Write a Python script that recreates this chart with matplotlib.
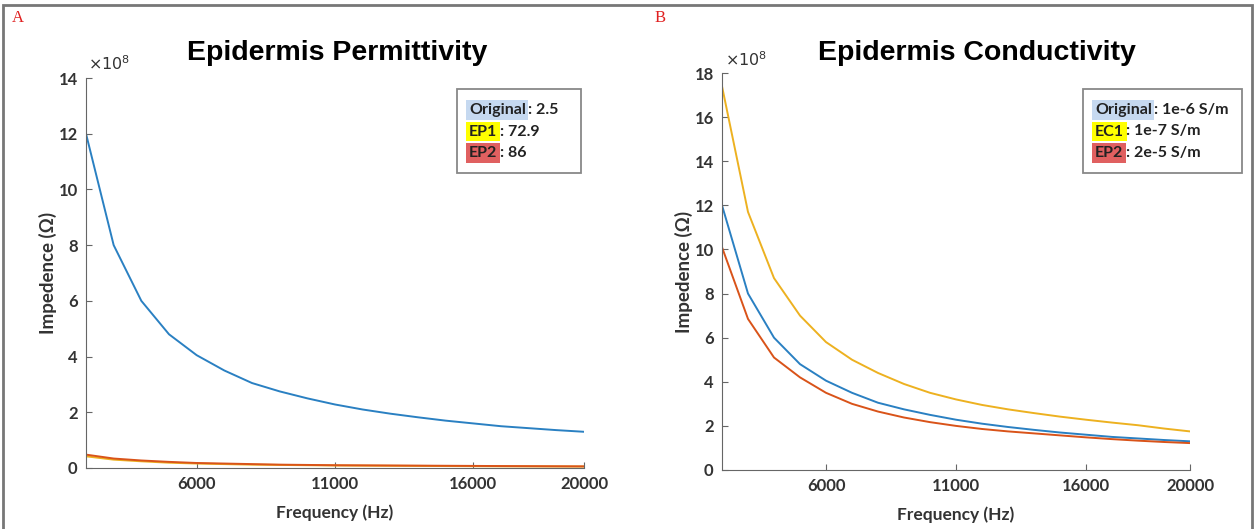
import matplotlib
matplotlib.use("Agg")
import matplotlib.pyplot as plt
from matplotlib.patches import Rectangle
from matplotlib.text import Annotation

# frequency sweep (Hz) and impedance values in units of 1e8 ohm
freq = [2000, 3000, 4000, 5000, 6000, 7000, 8000, 9000, 10000, 11000,
        12000, 13000, 14000, 15000, 16000, 17000, 18000, 19000, 20000]

original = [12.0, 8.0, 6.0, 4.8, 4.05, 3.5, 3.05, 2.75, 2.5, 2.28,
            2.1, 1.95, 1.82, 1.7, 1.6, 1.5, 1.43, 1.36, 1.3]
ep1 = [0.42, 0.30, 0.24, 0.19, 0.16, 0.14, 0.12, 0.11, 0.10, 0.09,
       0.085, 0.08, 0.075, 0.07, 0.065, 0.06, 0.058, 0.055, 0.052]
ep2 = [0.48, 0.34, 0.27, 0.22, 0.18, 0.16, 0.14, 0.12, 0.11, 0.10,
       0.095, 0.09, 0.085, 0.08, 0.075, 0.07, 0.066, 0.062, 0.058]

ec1 = [17.4, 11.7, 8.7, 7.0, 5.8, 5.0, 4.4, 3.9, 3.5, 3.2,
       2.95, 2.75, 2.58, 2.42, 2.28, 2.15, 2.03, 1.88, 1.75]
ep2_cond = [10.1, 6.85, 5.1, 4.2, 3.5, 3.0, 2.65, 2.38, 2.17, 2.0,
            1.86, 1.75, 1.66, 1.57, 1.48, 1.40, 1.33, 1.27, 1.22]

xticks = [6000, 11000, 16000, 20000]

blue = "#2a80c2"
yellow = "#EDB120"
red = "#D95319"

plt.rcParams['font.family'] = ['Lato', 'DejaVu Sans']

W, H = 1255, 529
fig = plt.figure(figsize=(W / 100, H / 100), dpi=100)

# outer frame of the figure
fig.patches.append(Rectangle((0.0024, -0.05), 0.9952, 1.0405, transform=fig.transFigure,
                             fill=False, edgecolor="#777777", lw=2))

fig.text(12 / W, 1 - 18 / H, "A", color="#e02020", fontsize=12,
         family="Liberation Serif", va="center")
fig.text(655 / W, 1 - 18 / H, "B", color="#e02020", fontsize=12,
         family="Liberation Serif", va="center")


def style(ax, ymax):
    ax.set_xlim(2000, 20000)
    ax.set_ylim(0, ymax)
    ax.set_xticks(xticks)
    ax.set_yticks(range(0, ymax + 1, 2))
    for s in ["top", "right"]:
        ax.spines[s].set_visible(False)
    for s in ["left", "bottom"]:
        ax.spines[s].set_color("#666666")
    ax.tick_params(direction="in", length=4, colors="#666666", labelsize=12,
                   labelcolor="#333333", pad=6)
    for lab in ax.get_xticklabels() + ax.get_yticklabels():
        lab.set_fontweight("bold")
    ax.set_xlabel("Frequency (Hz)", fontsize=12.5, fontweight="bold", color="#333333", labelpad=9)
    ax.set_ylabel("Impedence (Ω)", fontsize=13.5, fontweight="bold", color="#333333", labelpad=1)


axA = fig.add_axes([86 / W, (H - 468) / H, 498 / W, 390 / H])
axA.plot(freq, original, color=blue, lw=1.4)
axA.plot(freq, ep1, color=yellow, lw=1.4)
axA.plot(freq, ep2, color=red, lw=1.4)
style(axA, 14)

axB = fig.add_axes([722 / W, (H - 470) / H, 468 / W, 397 / H])
axB.plot(freq, original, color=blue, lw=1.4)
axB.plot(freq, ec1, color=yellow, lw=1.4)
axB.plot(freq, ep2_cond, color=red, lw=1.4)
style(axB, 18)

fig.text(88 / W, 1 - 64 / H, r"$\times10^{8}$", fontsize=11.5, color="#333333", va="center")
fig.text(725 / W, 1 - 60 / H, r"$\times10^{8}$", fontsize=11.5, color="#333333", va="center")

fig.text(337 / W, 1 - 53 / H, "Epidermis Permittivity", fontsize=20.5, fontweight="bold",
         family="Liberation Sans", ha="center", va="center")
fig.text(977 / W, 1 - 53 / H, "Epidermis Conductivity", fontsize=20.5, fontweight="bold",
         family="Liberation Sans", ha="center", va="center")


def legend_box(x0, x1, entries):
    fig.patches.append(Rectangle((x0 / W, 1 - 173 / H), (x1 - x0) / W, 84 / H,
                                 transform=fig.transFigure, fill=False,
                                 edgecolor="#888888", lw=1.3))
    for (name, hl, value), yc in zip(entries, [110, 131.5, 153]):
        t = fig.text((x0 + 12) / W, 1 - yc / H, name, fontsize=11.5, fontweight="bold",
                     color="#222222", va="center", zorder=3,
                     bbox=dict(facecolor=hl, edgecolor="none", pad=1.8))
        # rest of the line, drawn on top of the highlight
        ann = Annotation(value, xy=(1, 0.5), xycoords=t, xytext=(1.8, 0),
                         textcoords="offset points", va="center", ha="left",
                         fontsize=11.5, fontweight="bold", color="#222222",
                         annotation_clip=False, zorder=4)
        fig.add_artist(ann)


legend_box(457, 581, [("Original", "#c6d9f0", ": 2.5"),
                      ("EP1", "#ffff00", ": 72.9"),
                      ("EP2", "#e06060", ": 86")])
legend_box(1083, 1242, [("Original", "#c6d9f0", ": 1e-6 S/m"),
                        ("EC1", "#ffff00", ": 1e-7 S/m"),
                        ("EP2", "#e06060", ": 2e-5 S/m")])

fig.savefig("out.png", dpi=100)
